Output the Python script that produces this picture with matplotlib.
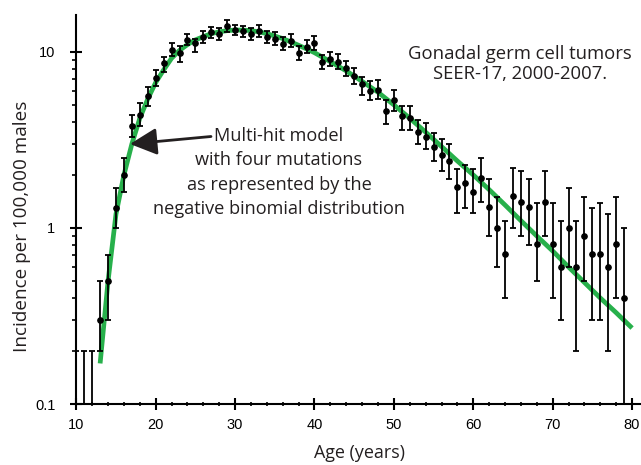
import numpy as np
import matplotlib
matplotlib.use("Agg")
import matplotlib.pyplot as plt
from matplotlib.ticker import FixedLocator, NullFormatter, LogLocator

# ---- data ----
ages = list(range(10, 80))
rate = [0, 0, 0,
        0.30, 0.50, 1.30, 2.0, 3.8, 4.4, 5.6,
        7.1, 8.6, 10.3, 9.8, 11.7, 11.2, 12.2, 12.9, 12.6, 14.1,
        13.3, 13.1, 12.6, 13.2, 12.1, 11.9, 11.1, 11.6, 9.9, 10.7,
        11.2, 8.8, 9.1, 8.8, 8.1, 7.3, 6.6, 6.0, 6.1, 4.6,
        5.3, 4.3, 4.2, 3.5, 3.3, 2.9, 2.6, 2.4, 1.71, 1.81,
        1.60, 1.91, 1.31, 1.0, 0.71, 1.51, 1.41, 1.31, 0.81, 1.41,
        0.81, 0.60, 1.0, 0.60, 0.90, 0.71, 0.71, 0.60, 0.81, 0.40]
rate_lo = [0, 0, 0,
           0.20, 0.30, 1.0, 1.6, 3.3, 3.8, 4.9,
           6.4, 7.7, 9.5, 8.8, 11.0, 10.0, 11.2, 12.0, 11.7, 13.0,
           12.4, 12.2, 11.7, 12.2, 11.2, 11.0, 10.2, 10.7, 9.0, 9.8,
           10.2, 8.0, 8.3, 8.0, 7.3, 6.6, 5.7, 5.3, 5.4, 3.9,
           4.6, 3.6, 3.6, 3.0, 2.79, 2.40, 2.10, 1.90, 1.21, 1.30,
           1.21, 1.40, 0.90, 0.60, 0.40, 1.0, 0.90, 0.80, 0.50, 0.90,
           0.40, 0.30, 0.60, 0.20, 0.50, 0.30, 0.30, 0.20, 0.40, 0]
rate_hi = [0.2, 0.2, 0.2,
           0.50, 0.70, 1.69, 2.5, 4.4, 5.1, 6.3,
           7.9, 9.3, 11.2, 10.8, 12.6, 11.9, 13.2, 13.9, 13.6, 15.2,
           14.3, 14.1, 13.6, 14.3, 13.1, 12.9, 12.1, 12.6, 10.8, 11.7,
           12.3, 9.6, 10.0, 9.7, 8.9, 8.1, 7.2, 6.8, 6.9, 5.3,
           6.1, 4.9, 4.9, 4.1, 3.96, 3.48, 3.19, 2.98, 2.17, 2.29,
           2.17, 2.49, 1.89, 1.50, 1.10, 2.19, 2.10, 1.89, 1.39, 2.10,
           1.39, 1.10, 1.69, 1.10, 1.49, 1.30, 1.39, 1.20, 1.49, 1.0]

model_age = [13, 14, 15, 16, 17, 18, 19, 20, 21, 22, 23, 24, 25, 26, 27, 28, 29,
             30, 31, 32, 33, 34, 35, 36, 37, 38, 39, 40, 42, 44, 46, 48, 50,
             52, 54, 56, 58, 60, 62, 64, 66, 68, 70, 72, 74, 76, 78, 80]
model_rate = [0.17, 0.5, 1.2, 2.0, 3.0, 4.2, 5.4, 6.7, 7.9, 9.2, 10.2, 11.0, 11.7,
              12.2, 12.7, 13.0, 13.2, 13.3, 13.3, 13.2, 13.0, 12.7, 12.3, 11.9,
              11.4, 10.9, 10.4, 9.9, 8.8, 7.8, 6.8, 5.9, 5.0, 4.2, 3.5, 2.9,
              2.4, 2.0, 1.65, 1.35, 1.1, 0.9, 0.74, 0.6, 0.49, 0.4, 0.33, 0.27]

x_ticks = [10, 20, 30, 40, 50, 60, 70, 80]
y_ticks = [0.1, 1, 10]
y_ticklabels = ["0.1", "1", "10"]

TXT = "#231f20"
GREEN = "#27b04b"

W, H = 641, 465
fig = plt.figure(figsize=(W / 100, H / 100), dpi=100)
left_px, right_px, top_px, bot_px = 76.3, 640.0, 15.0, 404.0
ax = fig.add_axes([left_px / W, (H - bot_px) / H,
                   (right_px - left_px) / W, (bot_px - top_px) / H])
ax.set_yscale("log")
ax.set_xlim(10, 81)
ax.set_ylim(0.1, 16.2)

# model curve
ax.plot(model_age, model_rate, color=GREEN, lw=3.4, solid_capstyle="butt",
        zorder=2)

a = np.array(ages, dtype=float)
r = np.array(rate, dtype=float)
lo = np.array(rate_lo, dtype=float)
hi = np.array(rate_hi, dtype=float)
lo_plot = np.where(lo > 0, lo, 1e-4)
ax.vlines(a, lo_plot, hi, color="black", lw=1.3, zorder=3)
ax.plot(a, hi, ls="none", marker="_", ms=5, mew=1.3, color="black", zorder=3)
m = lo > 0
ax.plot(a[m], lo[m], ls="none", marker="_", ms=5, mew=1.3, color="black", zorder=3)
mr = r > 0
ax.plot(a[mr], r[mr], ls="none", marker="o", ms=3.8, color="black", zorder=4)

# axes styling
for s in ["top", "right"]:
    ax.spines[s].set_visible(False)
for s in ["left", "bottom"]:
    ax.spines[s].set_linewidth(1.5)
    ax.spines[s].set_color("black")
ax.spines["left"].set_bounds(0.1, 16.2)

ax.xaxis.set_major_locator(FixedLocator(x_ticks))
ax.xaxis.set_minor_locator(FixedLocator([v for v in range(12, 81, 2) if v % 10]))
ax.yaxis.set_major_locator(FixedLocator(y_ticks))
ax.set_yticklabels(y_ticklabels)
ax.yaxis.set_minor_locator(LogLocator(base=10, subs=np.arange(2, 10), numticks=20))
ax.yaxis.set_minor_formatter(NullFormatter())

ax.tick_params(axis="both", which="major", direction="inout", length=8, width=1.5,
               labelsize=10.5, colors="black")
ax.tick_params(axis="x", which="major", pad=6)
ax.tick_params(axis="y", which="major", pad=11)
ax.tick_params(axis="x", which="minor", direction="inout", length=3, width=1.2)
ax.tick_params(axis="y", which="minor", direction="out", length=3, width=1.2)
for lab in ax.get_xticklabels() + ax.get_yticklabels():
    lab.set_family(["Liberation Sans", "DejaVu Sans"])

FONT = ["Open Sans", "DejaVu Sans"]
fig.text(22 / W, 1 - 226 / H, "Incidence per 100,000 males", rotation=90,
         ha="center", va="center", fontsize=13.6, color=TXT, family=FONT)
fig.text(360 / W, 1 - 453 / H, "Age (years)", ha="center", va="center",
         fontsize=12.9, color=TXT, family=FONT)
fig.text(520 / W, 1 - 64 / H, "Gonadal germ cell tumors\nSEER-17, 2000-2007.",
         ha="center", va="center", fontsize=13.3, color=TXT, family=FONT,
         linespacing=1.15)
fig.text(279 / W, 1 - 172.5 / H,
         "Multi-hit model\nwith four mutations\nas represented by the\nnegative binomial distribution",
         ha="center", va="center", fontsize=13.1, color=TXT, family=FONT,
         linespacing=1.45)
ax.annotate("", xy=(130 / W, 1 - 144 / H), xycoords="figure fraction",
            xytext=(211 / W, 1 - 136.5 / H), textcoords="figure fraction",
            arrowprops=dict(arrowstyle="-|>,head_length=1.1,head_width=0.55",
                            mutation_scale=15, lw=2, color=TXT,
                            shrinkA=0, shrinkB=0), zorder=5)

fig.savefig("out.png", dpi=100)
